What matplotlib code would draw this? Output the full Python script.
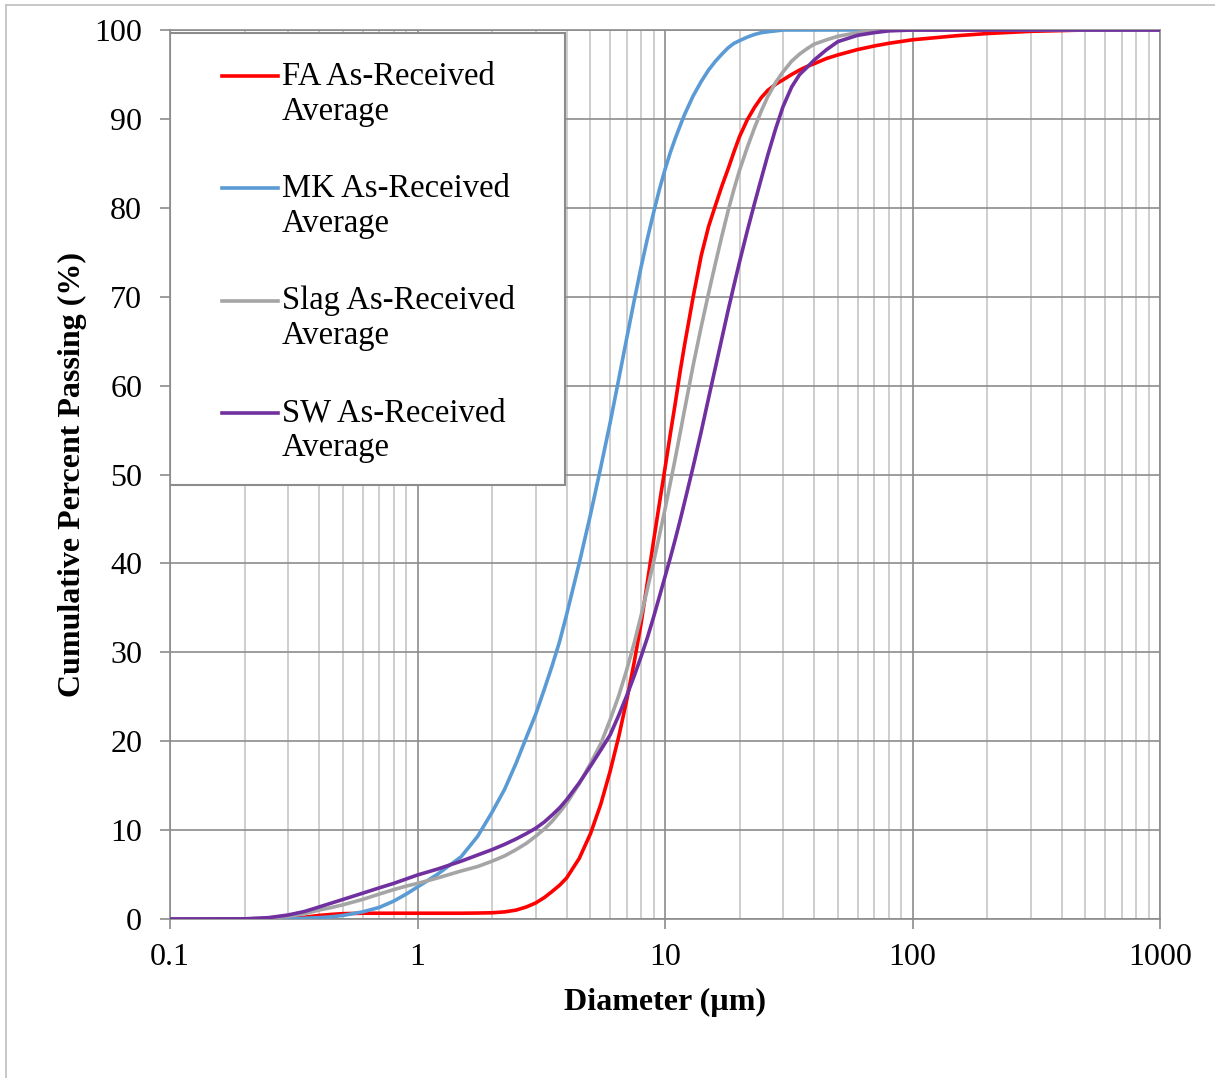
import matplotlib.pyplot as plt
from matplotlib.patches import Rectangle
from matplotlib.lines import Line2D
from matplotlib.legend_handler import HandlerLine2D

plt.rcParams['font.family'] = ['Liberation Serif', 'DejaVu Serif']

# particle size (um) and cumulative percent passing
diameter = [0.1, 0.2, 0.25, 0.3, 0.35, 0.4, 0.45, 0.5, 0.6, 0.7,
            0.8, 0.9, 1, 1.2, 1.5, 1.75, 2, 2.25, 2.5, 2.75,
            3, 3.25, 3.5, 3.75, 4, 4.5, 5, 5.5, 6, 6.5,
            7, 7.5, 8, 8.5, 9, 9.5, 10, 10.5, 11, 11.5,
            12, 13, 14, 15, 16, 17, 18, 19, 20, 21.5,
            23, 24.5, 26, 28, 30, 32.5, 35, 37.5, 40, 45,
            50, 60, 70, 80, 100, 150, 200, 300, 500, 1000]

fa = [0, 0, 0, 0.05, 0.2, 0.4, 0.52, 0.6, 0.65, 0.65,
      0.65, 0.65, 0.65, 0.65, 0.65, 0.67, 0.7, 0.8, 1.0, 1.35,
      1.8, 2.4, 3.1, 3.8, 4.6, 6.8, 9.6, 12.9, 16.6, 20.5,
      24.6, 28.8, 33.2, 38.0, 42.6, 46.8, 50.7, 54.5, 58.0, 61.5,
      64.6, 70.0, 74.6, 77.9, 80.3, 82.5, 84.4, 86.3, 88.0, 89.9,
      91.3, 92.4, 93.2, 93.9, 94.4, 95.0, 95.5, 95.9, 96.2, 96.8,
      97.2, 97.8, 98.2, 98.5, 98.9, 99.35, 99.6, 99.85, 100, 100]

mk = [0, 0, 0, 0.02, 0.08, 0.15, 0.25, 0.4, 0.8, 1.3,
      2.0, 2.8, 3.6, 5.0, 7.0, 9.3, 12.0, 14.6, 17.5, 20.4,
      23.0, 25.8, 28.5, 31.2, 34.2, 40.0, 45.5, 50.8, 55.8, 60.7,
      65.3, 69.5, 73.3, 76.6, 79.5, 82.1, 84.3, 86.2, 87.8, 89.2,
      90.5, 92.6, 94.2, 95.5, 96.5, 97.3, 98.0, 98.5, 98.8, 99.2,
      99.5, 99.7, 99.8, 99.9, 100, 100, 100, 100, 100, 100,
      100, 100, 100, 100, 100, 100, 100, 100, 100, 100]

slag = [0, 0, 0.1, 0.3, 0.6, 1.0, 1.3, 1.6, 2.2, 2.8,
        3.3, 3.7, 4.0, 4.6, 5.4, 5.9, 6.5, 7.1, 7.8, 8.5,
        9.3, 10.1, 11.0, 12.0, 13.0, 15.2, 17.5, 19.7, 22.4, 25.1,
        28.0, 31.0, 34.1, 37.2, 40.2, 43.2, 46.1, 49.0, 51.8, 54.6,
        57.3, 62.3, 66.6, 70.4, 73.8, 76.9, 79.7, 82.1, 84.2, 86.8,
        89.0, 90.9, 92.5, 94.1, 95.3, 96.5, 97.3, 97.9, 98.4, 98.9,
        99.3, 99.7, 100, 100, 100, 100, 100, 100, 100, 100]

sw = [0, 0.02, 0.15, 0.45, 0.85, 1.35, 1.8, 2.2, 2.9, 3.5,
      4.0, 4.5, 4.95, 5.6, 6.5, 7.2, 7.8, 8.4, 9.0, 9.6,
      10.2, 10.9, 11.7, 12.5, 13.4, 15.3, 17.2, 19.0, 20.7, 22.9,
      25.1, 27.3, 29.5, 31.7, 34.0, 36.3, 38.5, 40.6, 42.7, 44.8,
      46.9, 50.9, 54.8, 58.6, 62.1, 65.4, 68.5, 71.3, 73.9, 77.4,
      80.5, 83.3, 85.9, 88.9, 91.4, 93.6, 95.0, 95.8, 96.6, 97.8,
      98.7, 99.4, 99.7, 99.9, 100, 100, 100, 100, 100, 100]

labels = ['FA As-Received\nAverage', 'MK As-Received\nAverage',
          'Slag As-Received\nAverage', 'SW As-Received\nAverage']
colors = ['#FF0000', '#5B9BD5', '#A5A5A5', '#7030A0']

x_ticks = [0.1, 1, 10, 100, 1000]
x_tick_labels = ['0.1', '1', '10', '100', '1000']
y_ticks = list(range(0, 101, 10))


class FirstLineHandler(HandlerLine2D):
    # put the legend line beside the first line of a two-line label
    def create_artists(self, legend, orig_handle, xdescent, ydescent,
                       width, height, fontsize, trans):
        arts = super().create_artists(legend, orig_handle, xdescent, ydescent,
                                      width, height, fontsize, trans)
        for a in arts:
            a.set_ydata([y + 0.55 * fontsize for y in a.get_ydata()])
        return arts


fig = plt.figure(figsize=(12.15, 10.78), dpi=100)
ax = fig.add_axes([170 / 1215, 1 - 919 / 1078, 990 / 1215, 889 / 1078])

lines = []
for y, lab, c in zip([fa, mk, slag, sw], labels, colors):
    ln, = ax.plot(diameter, y, color=c, lw=2.6, label=lab, zorder=3,
                  solid_joinstyle='round')
    lines.append(ln)

ax.set_xscale('log')
ax.set_xlim(0.1, 1000)
ax.set_ylim(0, 100)
ax.set_xticks(x_ticks)
ax.set_xticklabels(x_tick_labels)
ax.set_yticks(y_ticks)
ax.minorticks_on()
ax.yaxis.set_minor_locator(plt.NullLocator())

ax.grid(True, which='major', color='#8C8C8C', lw=1.2)
ax.grid(True, which='minor', axis='x', color='#C6C6C6', lw=1.2)
ax.set_axisbelow(True)
for s in ax.spines.values():
    s.set_color('#8C8C8C')
    s.set_linewidth(1.2)

ax.tick_params(which='major', length=7, width=1.2, color='#8C8C8C', labelsize=23)
ax.tick_params(axis='y', pad=13)
ax.tick_params(axis='x', pad=10)
ax.tick_params(which='minor', length=0)

ax.set_xlabel('Diameter (µm)', fontsize=23, fontweight='bold', labelpad=11.5)
ax.set_ylabel('Cumulative Percent Passing (%)', fontsize=23, fontweight='bold', labelpad=5)

# legend box
ax.add_patch(Rectangle((0, 0.488), 0.399, 0.9966 - 0.488, transform=ax.transAxes,
                       facecolor='white', edgecolor='#8C8C8C', lw=1.5, zorder=4))
leg = ax.legend(handles=lines, loc='upper left', bbox_to_anchor=(0.0525, 0.965),
                frameon=False, fontsize=23.5, borderpad=0, borderaxespad=0,
                handlelength=1.72, handletextpad=0.12, labelspacing=1.42,
                handler_map={Line2D: FirstLineHandler()})
leg.set_zorder(5)

# thin border round the figure
fig.add_artist(Line2D([6 / 1215, 6 / 1215], [0, 1 - 5 / 1078], color='#BFBFBF', lw=1.2))
fig.add_artist(Line2D([6 / 1215, 1], [1 - 5 / 1078, 1 - 5 / 1078], color='#BFBFBF', lw=1.2))

fig.savefig('out.png', dpi=100)
